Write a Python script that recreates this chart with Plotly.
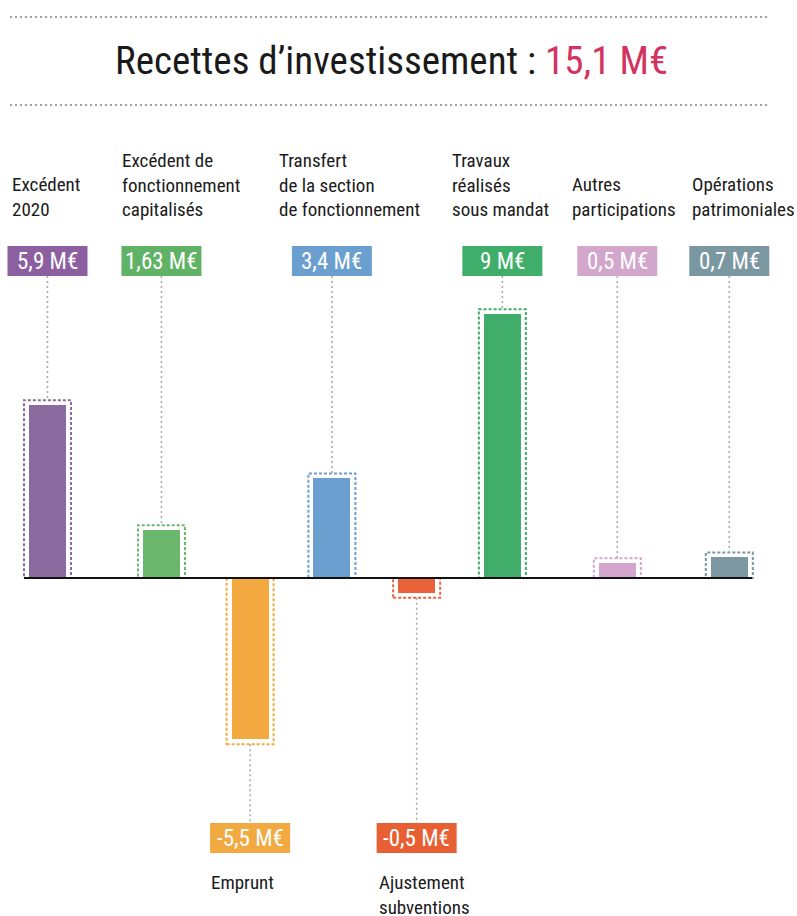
import plotly.graph_objects as go

# ---------------- data ----------------
categories = [
    "Excédent<br>2020",
    "Excédent de<br>fonctionnement<br>capitalisés",
    "Emprunt",
    "Transfert<br>de la section<br>de fonctionnement",
    "Ajustement<br>subventions",
    "Travaux<br>réalisés<br>sous mandat",
    "Autres<br>participations",
    "Opérations<br>patrimoniales",
]
values = [5.9, 1.63, -5.5, 3.4, -0.5, 9, 0.5, 0.7]
value_labels = ["5,9 M€", "1,63 M€", "-5,5 M€", "3,4 M€", "-0,5 M€", "9 M€", "0,5 M€", "0,7 M€"]
title_text = "Recettes d’investissement : "
total_label = "15,1 M€"

# ---------------- layout / styles ----------------
# horizontal slot of each column (the infographic spaces its columns unevenly)
x_slots = [0, 1.17, 2.08, 2.92, 3.79, 4.67, 5.85, 7.0]
bar_colors = ["#8b6b9f", "#6cb76e", "#f2a93f", "#6a9fd0", "#e9623a", "#40ad6b", "#d4a6cd", "#7b97a1"]
box_colors = ["#8c5fa0", "#5fb266", "#f2a93f", "#6a9fd0", "#e85f34", "#3fae6a", "#d3a6cc", "#7b97a1"]
FONT = "Roboto Condensed, Liberation Sans Narrow, sans-serif"

W, H = 797, 916
X0_PX, DX_PX = 47.5, 97.4      # pixel of slot 0, pixels per slot
BASE_PX, DY_PX = 578, 29.3     # baseline pixel, pixels per M€

x_range = [-X0_PX / DX_PX, (W - X0_PX) / DX_PX]
y_range = [(BASE_PX - H) / DY_PX, BASE_PX / DY_PX]


def yv(px):  # pixel row -> y data
    return (BASE_PX - px) / DY_PX


def xv(px):  # pixel column -> x data
    return (px - X0_PX) / DX_PX


def px_x(px):
    return px / W


def px_y(py):
    return 1 - py / H


BAR_W = 37 / DX_PX
OUT_W = 47 / DX_PX
OUT_PAD = 5 / DY_PX
BOX_W = 80 / DX_PX
TOP_BOX = (246, 276)
BOT_BOX = (823, 853)

fig = go.Figure()
fig.add_trace(go.Bar(
    x=x_slots, y=values, width=BAR_W,
    marker=dict(color=bar_colors, line=dict(width=0)),
    customdata=categories, hoverinfo="skip", showlegend=False,
))

shapes = []
annotations = []

# dotted separators
for py in (17, 105):
    shapes.append(dict(type="line", xref="paper", yref="paper",
                       x0=px_x(10), x1=px_x(770), y0=px_y(py), y1=px_y(py),
                       line=dict(color="#a0a0a0", width=2, dash="2px,3px")))

# title
annotations.append(dict(
    xref="paper", yref="paper", x=px_x(391), y=px_y(61), xanchor="center", yanchor="middle",
    text=title_text + "<span style='color:#d3335f'>" + total_label + "</span>",
    showarrow=False, font=dict(family=FONT, size=39, color="#1a1a1a"),
))

for i, v in enumerate(values):
    xc = x_slots[i]
    # dashed outline round the bar
    if v >= 0:
        oy0, oy1 = 0, v + OUT_PAD
    else:
        oy0, oy1 = v - OUT_PAD, 0
    shapes.append(dict(type="rect", xref="x", yref="y",
                       x0=xc - OUT_W / 2, x1=xc + OUT_W / 2, y0=oy0, y1=oy1,
                       line=dict(color=bar_colors[i], width=2, dash="3px,2px"),
                       fillcolor="rgba(0,0,0,0)", layer="below"))
    # value box + connector
    if v >= 0:
        b0, b1 = TOP_BOX
        shapes.append(dict(type="line", xref="x", yref="y", x0=xc, x1=xc,
                           y0=yv(b1), y1=oy1,
                           line=dict(color="#a8a8a8", width=1.5, dash="2px,3px")))
    else:
        b0, b1 = BOT_BOX
        shapes.append(dict(type="line", xref="x", yref="y", x0=xc, x1=xc,
                           y0=oy0, y1=yv(b0),
                           line=dict(color="#a8a8a8", width=1.5, dash="2px,3px")))
    shapes.append(dict(type="rect", xref="x", yref="y",
                       x0=xc - BOX_W / 2, x1=xc + BOX_W / 2, y0=yv(b1), y1=yv(b0),
                       line=dict(width=0), fillcolor=box_colors[i]))
    annotations.append(dict(xref="x", yref="y", x=xc, y=yv((b0 + b1) / 2),
                            xanchor="center", yanchor="middle", text=value_labels[i],
                            showarrow=False, font=dict(family=FONT, size=23, color="white")))

# category labels: positives on top, negatives below
top_left_px = {0: 10, 1: 120, 3: 277, 5: 450, 6: 570, 7: 690}
bot_left_px = {2: 209, 4: 377}
for i, v in enumerate(values):
    if v >= 0:
        annotations.append(dict(xref="paper", yref="paper", x=px_x(top_left_px[i]), y=px_y(223),
                                xanchor="left", yanchor="bottom", align="left",
                                text=categories[i], showarrow=False,
                                font=dict(family=FONT, size=19, color="#1a1a1a")))
    else:
        annotations.append(dict(xref="paper", yref="paper", x=px_x(bot_left_px[i]), y=px_y(869),
                                xanchor="left", yanchor="top", align="left",
                                text=categories[i], showarrow=False,
                                font=dict(family=FONT, size=19, color="#1a1a1a")))

# baseline
shapes.append(dict(type="line", xref="x", yref="y", x0=xv(24), x1=xv(752), y0=0, y1=0,
                   line=dict(color="#111111", width=2)))

fig.update_layout(
    width=W, height=H,
    margin=dict(l=0, r=0, t=0, b=0),
    paper_bgcolor="white", plot_bgcolor="white",
    xaxis=dict(range=x_range, visible=False, fixedrange=True),
    yaxis=dict(range=y_range, visible=False, fixedrange=True),
    shapes=shapes, annotations=annotations,
    bargap=0, showlegend=False,
)

fig.write_html("out.html", post_script="document.body.style.margin='0';",
               config={"displayModeBar": False})
